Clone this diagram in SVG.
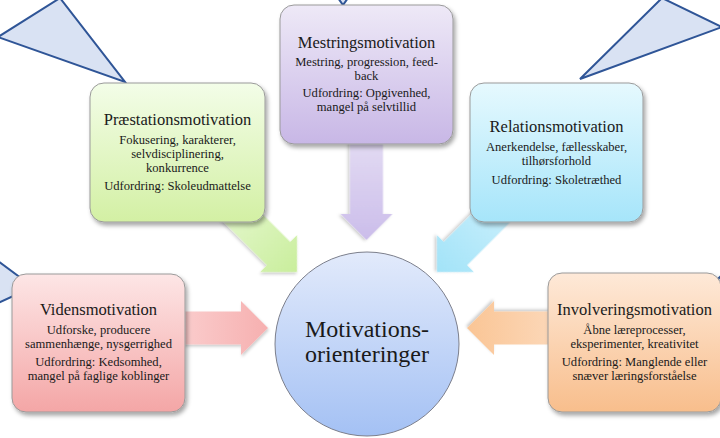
<svg xmlns="http://www.w3.org/2000/svg" width="720" height="438" viewBox="0 0 720 438">
<style>
  .box { stroke:#9a9a9a; stroke-width:1; filter:url(#sh); }
  .t { font-family:"Liberation Serif","Times New Roman",serif; fill:#1a1a1a; text-anchor:middle; }
  .ti { font-size:16.5px; }
  .bd { font-size:12.6px; }
  .big { font-size:24px; }
  .call { fill:#d9e2f3; stroke:#2f5597; stroke-width:2; stroke-linejoin:miter; }
  .arr { filter:url(#sh2); }
</style>
<defs>
  <filter id="sh" x="-10%" y="-10%" width="125%" height="125%">
    <feDropShadow dx="2" dy="3" stdDeviation="2" flood-color="#000" flood-opacity="0.35"/>
  </filter>
  <filter id="sh2" x="-20%" y="-20%" width="140%" height="140%">
    <feDropShadow dx="1" dy="2" stdDeviation="1.5" flood-color="#000" flood-opacity="0.2"/>
  </filter>
  <linearGradient id="gG" x1="0" y1="0" x2="0" y2="1"><stop offset="0" stop-color="#f3fde8"/><stop offset="1" stop-color="#d3f0a4"/></linearGradient>
  <linearGradient id="gP" x1="0" y1="0" x2="0" y2="1"><stop offset="0" stop-color="#eee9f7"/><stop offset="1" stop-color="#c8b7e6"/></linearGradient>
  <linearGradient id="gB" x1="0" y1="0" x2="0" y2="1"><stop offset="0" stop-color="#e6f9fe"/><stop offset="1" stop-color="#a6e5fa"/></linearGradient>
  <linearGradient id="gR" x1="0" y1="0" x2="0" y2="1"><stop offset="0" stop-color="#fde6e6"/><stop offset="1" stop-color="#f4a6a6"/></linearGradient>
  <linearGradient id="gO" x1="0" y1="0" x2="0" y2="1"><stop offset="0" stop-color="#fee9d8"/><stop offset="1" stop-color="#f8be8c"/></linearGradient>
  <linearGradient id="gC" x1="0" y1="0" x2="0" y2="1"><stop offset="0" stop-color="#e2eafb"/><stop offset="1" stop-color="#a4c1f4"/></linearGradient>
  <linearGradient id="aG" x1="0" y1="0" x2="1" y2="0"><stop offset="0" stop-color="#e4f7cc"/><stop offset="1" stop-color="#c9ee9c"/></linearGradient>
  <linearGradient id="aP" x1="0" y1="0" x2="1" y2="0"><stop offset="0" stop-color="#e3dbf3"/><stop offset="1" stop-color="#cbbdea"/></linearGradient>
  <linearGradient id="aB" x1="0" y1="0" x2="1" y2="0"><stop offset="0" stop-color="#c9effc"/><stop offset="1" stop-color="#a2e3f8"/></linearGradient>
  <linearGradient id="aR" x1="0" y1="0" x2="1" y2="0"><stop offset="0" stop-color="#fbd0d0"/><stop offset="1" stop-color="#f6b0b0"/></linearGradient>
  <linearGradient id="aO" x1="0" y1="0" x2="1" y2="0"><stop offset="0" stop-color="#fcd9bb"/><stop offset="1" stop-color="#fac595"/></linearGradient>
</defs>

<g id="callouts">
  <polygon class="call" points="-2,37 125,82 60,-2"/>
  <polygon class="call" points="662,-2 580,79 722,27"/>
  <polygon class="call" points="-2,261 33,287 -2,303"/>
  <polygon class="call" points="722,275 703,294 722,294"/>
  <polygon class="call" points="338,-2 343,5 348,-2"/>
</g>

<g id="connectors">
  <path class="arr" fill="url(#aP)" transform="translate(366.5,240) rotate(90)" d="M0,0 L-26,-26 L-26,-16.5 L-100,-16.5 L-100,16.5 L-26,16.5 L-26,26 Z"/>
  <path class="arr" fill="url(#aG)" transform="translate(297,272) rotate(45)" d="M0,0 L-26,-26 L-26,-16.5 L-95,-16.5 L-95,16.5 L-26,16.5 L-26,26 Z"/>
  <path class="arr" fill="url(#aB)" transform="translate(437,272) rotate(135)" d="M0,0 L-26,-26 L-26,-16.5 L-95,-16.5 L-95,16.5 L-26,16.5 L-26,26 Z"/>
  <path class="arr" fill="url(#aR)" transform="translate(268,328)" d="M0,0 L-27,-27 L-27,-16.5 L-98,-16.5 L-98,16.5 L-27,16.5 L-27,27 Z"/>
  <path class="arr" fill="url(#aO)" transform="translate(467,328) rotate(180)" d="M0,0 L-27,-27 L-27,-16.5 L-93,-16.5 L-93,16.5 L-27,16.5 L-27,27 Z"/>
</g>

<g id="center">
  <circle cx="367" cy="344" r="92" fill="url(#gC)" stroke="#7c7f8c" stroke-width="1"/>
  <text class="t big" x="367" y="337">Motivations-</text>
  <text class="t big" x="367" y="362">orienteringer</text>
</g>

<g id="praestation">
  <rect class="box" x="90" y="83" width="175" height="139" rx="14" fill="url(#gG)"/>
  <text class="t ti" x="177.5" y="125">Præstationsmotivation</text>
  <text class="t bd" x="177.5" y="144">Fokusering, karakterer,</text>
  <text class="t bd" x="177.5" y="158">selvdisciplinering,</text>
  <text class="t bd" x="177.5" y="172">konkurrence</text>
  <text class="t bd" x="177.5" y="190">Udfordring: Skoleudmattelse</text>
</g>

<g id="mestring">
  <rect class="box" x="280" y="5" width="173" height="139" rx="14" fill="url(#gP)"/>
  <text class="t ti" x="366.5" y="48">Mestringsmotivation</text>
  <text class="t bd" x="366.5" y="66">Mestring, progression, feed-</text>
  <text class="t bd" x="366.5" y="80">back</text>
  <text class="t bd" x="366.5" y="97">Udfordring: Opgivenhed,</text>
  <text class="t bd" x="366.5" y="111">mangel på selvtillid</text>
</g>

<g id="relation">
  <rect class="box" x="470" y="83" width="173" height="139" rx="14" fill="url(#gB)"/>
  <text class="t ti" x="556.5" y="132">Relationsmotivation</text>
  <text class="t bd" x="556.5" y="151">Anerkendelse, fællesskaber,</text>
  <text class="t bd" x="556.5" y="165">tilhørsforhold</text>
  <text class="t bd" x="556.5" y="184">Udfordring: Skoletræthed</text>
</g>

<g id="viden">
  <rect class="box" x="12" y="274" width="173" height="138" rx="14" fill="url(#gR)"/>
  <text class="t ti" x="98.5" y="315">Vidensmotivation</text>
  <text class="t bd" x="98.5" y="334">Udforske, producere</text>
  <text class="t bd" x="98.5" y="348">sammenhænge, nysgerrighed</text>
  <text class="t bd" x="98.5" y="366">Udfordring: Kedsomhed,</text>
  <text class="t bd" x="98.5" y="380">mangel på faglige koblinger</text>
</g>

<g id="involvering">
  <rect class="box" x="548" y="273" width="173" height="139" rx="14" fill="url(#gO)"/>
  <text class="t ti" x="634.5" y="315">Involveringsmotivation</text>
  <text class="t bd" x="634.5" y="334">Åbne læreprocesser,</text>
  <text class="t bd" x="634.5" y="348">eksperimenter, kreativitet</text>
  <text class="t bd" x="634.5" y="366">Udfordring: Manglende eller</text>
  <text class="t bd" x="634.5" y="380">snæver læringsforståelse</text>
</g>
</svg>
